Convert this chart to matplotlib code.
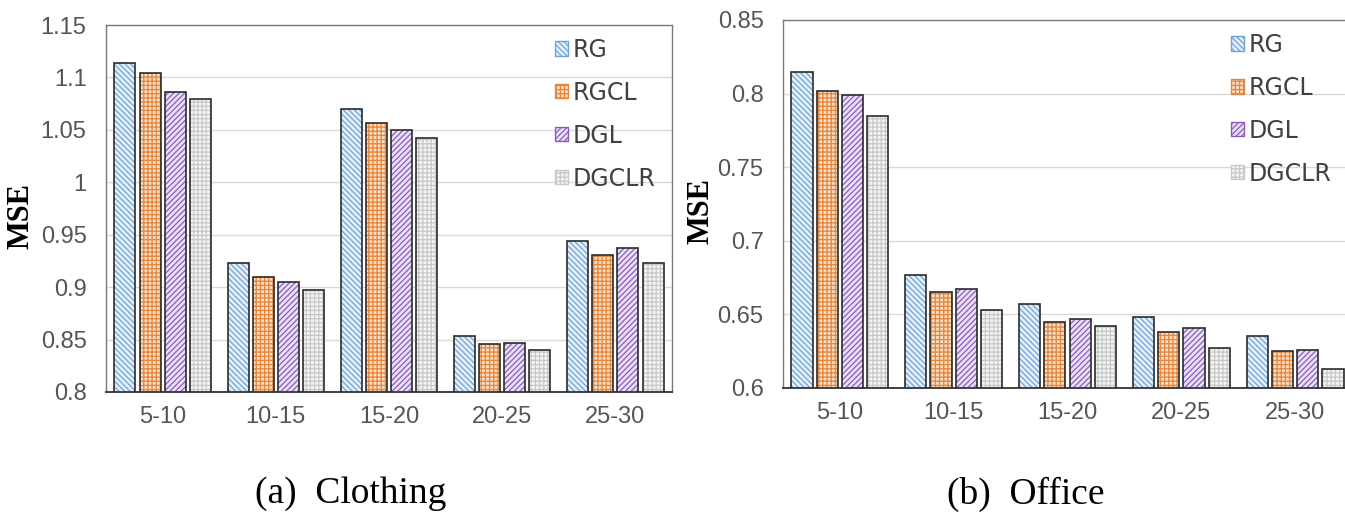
import numpy as np
import matplotlib
matplotlib.use("Agg")
import matplotlib.pyplot as plt
from matplotlib.patches import Patch

groups = ["5-10", "10-15", "15-20", "20-25", "25-30"]
methods = ["RG", "RGCL", "DGL", "DGCLR"]

clothing_rg = [1.114, 0.923, 1.070, 0.853, 0.944]
clothing_rgcl = [1.104, 0.910, 1.057, 0.846, 0.931]
clothing_dgl = [1.086, 0.905, 1.050, 0.847, 0.937]
clothing_dgclr = [1.079, 0.897, 1.042, 0.840, 0.923]

office_rg = [0.815, 0.677, 0.657, 0.648, 0.635]
office_rgcl = [0.802, 0.665, 0.645, 0.638, 0.625]
office_dgl = [0.799, 0.667, 0.647, 0.641, 0.626]
office_dgclr = [0.785, 0.653, 0.642, 0.627, 0.613]

clothing_ticks = [0.8, 0.85, 0.9, 0.95, 1, 1.05, 1.1, 1.15]
clothing_ticklabels = ["0.8", "0.85", "0.9", "0.95", "1", "1.05", "1.1", "1.15"]
office_ticks = [0.6, 0.65, 0.7, 0.75, 0.8, 0.85]
office_ticklabels = ["0.6", "0.65", "0.7", "0.75", "0.8", "0.85"]

faces = ["#e4effa", "#fbdcc0", "#eadff6", "#f4f4f4"]
hatchcols = ["#6fa3d8", "#e3863f", "#8a5cc0", "#c8c8c8"]
hatches = ["\\\\\\\\\\\\", "++++", "//////", "++++"]

tickfont = ["Liberation Sans", "DejaVu Sans"]
plt.rcParams["hatch.linewidth"] = 0.9

fig = plt.figure(figsize=(13.45, 5.12), dpi=100)
W, H = 1345.0, 512.0


def panel(rect, series, ylim, ticks, ticklabels, caption, capx, leg_anchor, mse_x):
    ax = fig.add_axes([rect[0] / W, 1 - rect[3] / H, (rect[2] - rect[0]) / W, (rect[3] - rect[1]) / H])
    x = np.arange(len(groups))
    bw = 0.186
    step = 0.222
    for i, vals in enumerate(series):
        pos = x + (i - 1.5) * step
        ax.bar(pos, vals, bw, color=faces[i], edgecolor=hatchcols[i], hatch=hatches[i],
               linewidth=0, zorder=2)
        ax.bar(pos, vals, bw, fill=False, edgecolor="#2b2b2b", linewidth=1.2, zorder=3)
    ax.set_xlim(-0.5, len(groups) - 0.5)
    ax.set_ylim(*ylim)
    ax.set_yticks(ticks)
    ax.set_yticklabels(ticklabels, family=tickfont, fontsize=17, color="#555555")
    ax.set_xticks(x)
    ax.set_xticklabels(groups, family=tickfont, fontsize=17, color="#555555")
    ax.tick_params(axis="y", length=0, pad=14)
    ax.tick_params(axis="x", length=0, pad=10)
    ax.yaxis.grid(True, color="#d9d9d9", linewidth=1, zorder=0)
    ax.set_axisbelow(True)
    for s in ["top", "right", "left"]:
        ax.spines[s].set_color("#7a7a7a")
        ax.spines[s].set_linewidth(1.0)
    ax.spines["bottom"].set_color("#404040")
    ax.spines["bottom"].set_linewidth(1.4)
    ax.set_ylabel("MSE", family="Liberation Serif", fontsize=22, fontweight="bold")
    ax.yaxis.set_label_coords(mse_x, 0.48)
    handles = [Patch(facecolor=faces[i], edgecolor=hatchcols[i], hatch=hatches[i], linewidth=1)
               for i in range(4)]
    leg = ax.legend(handles, methods, loc="upper left", bbox_to_anchor=leg_anchor, frameon=False,
                    borderpad=0, borderaxespad=0,
                    handlelength=0.55, handleheight=0.55, handletextpad=0.2, labelspacing=0.8,
                    prop={"family": ["DejaVu Sans"], "size": 17})
    for t in leg.get_texts():
        t.set_color("#404040")
    fig.text(capx / W, 1 - 494 / H, caption, family="Liberation Serif", fontsize=27,
             ha="center", va="center")
    return ax


panel((106, 25, 672, 392), [clothing_rg, clothing_rgcl, clothing_dgl, clothing_dgclr],
      (0.8, 1.15), clothing_ticks, clothing_ticklabels, "(a)  Clothing", 351,
      (0.793, 0.965), -0.125)
panel((783, 20, 1352, 388), [office_rg, office_rgcl, office_dgl, office_dgclr],
      (0.6, 0.85), office_ticks, office_ticklabels, "(b)  Office", 1026,
      (0.787, 0.965), -0.118)

fig.savefig("out.png", dpi=100)
